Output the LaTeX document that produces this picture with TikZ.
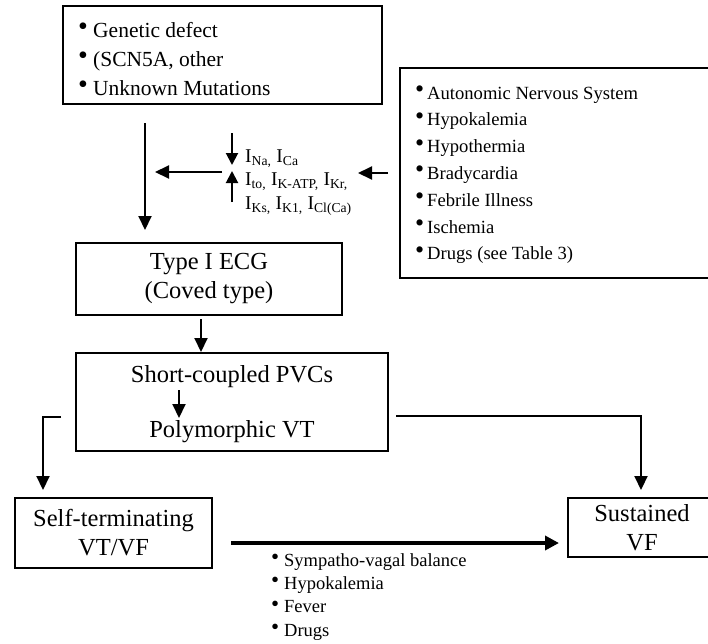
\documentclass[tikz,border=0pt]{standalone}
\usepackage{fontspec}
\setmainfont{Liberation Serif}
\usetikzlibrary{arrows.meta}
% bullet: #1 = box width, #2 = bullet size
\newcommand\bl[2]{\makebox[#1][l]{\raisebox{1.5pt}{\fontsize{#2}{#2}\selectfont •}}}
\begin{document}
\begin{tikzpicture}[x=1pt,y=-1pt,
  box/.style={draw=black, line width=1.4pt, inner sep=0pt, rectangle},
  boxtext/.style={align=center, inner sep=0pt, font=\fontsize{24.5}{29}\selectfont},
  glist/.style={anchor=base west, inner sep=0pt, font=\fontsize{21.5}{26}\selectfont},
  rlist/.style={anchor=base west, inner sep=0pt, font=\fontsize{18.6}{22}\selectfont},
  blist/.style={anchor=base west, inner sep=0pt, font=\fontsize{18.5}{22}\selectfont},
  curr/.style={anchor=base west, inner sep=0pt, font=\fontsize{19.5}{23}\selectfont},
  arr/.style={line width=2pt, -{Triangle[length=14pt,width=13pt]}},
  sarr/.style={line width=2pt, -{Triangle[length=12pt,width=12pt]}},
  barr/.style={line width=3.5pt, -{Triangle[length=14pt,width=14pt]}}]
\useasboundingbox (0,0) rectangle (708,643);
\clip (0,0) rectangle (708,643);
\fill[white] (0,0) rectangle (708,643);

% boxes
\node[box, minimum width=319pt, minimum height=98pt] (gen) at (222.5,55) {};
\node[box, minimum width=312pt, minimum height=210pt] (mod) at (556,173) {};
\node[box, minimum width=266pt, minimum height=72pt] (ecg) at (209,279) {};
\node[box, minimum width=312pt, minimum height=98pt] (pvc) at (232,402) {};
\node[box, minimum width=197pt, minimum height=70pt] (self) at (113.5,533) {};
\node[box, minimum width=148pt, minimum height=59pt] (sus) at (642,527.5) {};

% genetic list
\node[glist] (g1) at (78,37) {\bl{15pt}{28}Genetic defect};
\node[glist] (g2) at (78,66) {\bl{15pt}{28}(SCN5A, other};
\node[glist] (g3) at (78,95) {\bl{15pt}{28}Unknown Mutations};

% modulating factors list
\node[rlist] (r1) at (415,99)   {\bl{12pt}{26}Autonomic Nervous System};
\node[rlist] (r2) at (415,125.8) {\bl{12pt}{26}Hypokalemia};
\node[rlist] (r3) at (415,152.6) {\bl{12pt}{26}Hypothermia};
\node[rlist] (r4) at (415,179.4) {\bl{12pt}{26}Bradycardia};
\node[rlist] (r5) at (415,206.2) {\bl{12pt}{26}Febrile Illness};
\node[rlist] (r6) at (415,233)   {\bl{12pt}{26}Ischemia};
\node[rlist] (r7) at (415,259.8) {\bl{12pt}{26}Drugs (see Table 3)};

% currents
\node[curr] (c1) at (245,162) {I\textsubscript{Na,} I\textsubscript{Ca}};
\node[curr] (c2) at (245,185.5) {I\textsubscript{to,} I\textsubscript{K-ATP,} I\textsubscript{Kr,}};
\node[curr] (c3) at (245,209) {I\textsubscript{Ks,} I\textsubscript{K1,} I\textsubscript{Cl(Ca)}};

% box texts
\node[boxtext] (ecgt) at (ecg) {Type I ECG\\(Coved type)};
\node[boxtext] (pvc1) at (232,377) {Short-coupled PVCs};
\node[boxtext] (pvc2) at (232,432) {Polymorphic VT};
\node[boxtext] (selft) at (self) {Self-terminating\\VT/VF};
\node[boxtext] (sust) at (sus) {Sustained\\VF};

% bottom list
\node[blist] (b1) at (271,566)   {\bl{13pt}{23}Sympatho-vagal balance};
\node[blist] (b2) at (271,589.4) {\bl{13pt}{23}Hypokalemia};
\node[blist] (b3) at (271,612.8) {\bl{13pt}{23}Fever};
\node[blist] (b4) at (271,636.2) {\bl{13pt}{23}Drugs};

% connector end points
\coordinate (a1s) at (145,123);
\coordinate (a1e) at (145,230);
\coordinate (a2s) at (222,172);
\coordinate (a2e) at (155,172);
\coordinate (a3s) at (232,133);
\coordinate (a3e) at (232,165);
\coordinate (a4s) at (232,202);
\coordinate (a4e) at (232,171);
\coordinate (a5s) at (388,173);
\coordinate (a5e) at (358,173);
\coordinate (a6s) at (201,319);
\coordinate (a6e) at (201,352);
\coordinate (a7s) at (179,390);
\coordinate (a7e) at (179,418);
\coordinate (a8s) at (61,417);
\coordinate (a8c) at (43,417);
\coordinate (a8e) at (43,490);
\coordinate (a9s) at (396,416);
\coordinate (a9c) at (641,416);
\coordinate (a9e) at (641,490);
\coordinate (a10s) at (231,543);
\coordinate (a10e) at (559,543);

% connectors
\draw[arr] (a1s) -- (a1e);
\draw[arr] (a2s) -- (a2e);
\draw[sarr] (a3s) -- (a3e);
\draw[sarr] (a4s) -- (a4e);
\draw[arr] (a5s) -- (a5e);
\draw[arr] (a6s) -- (a6e);
\draw[arr] (a7s) -- (a7e);
\draw[arr] (a8s) -- (a8c) -- (a8e);
\draw[arr] (a9s) -- (a9c) -- (a9e);
\draw[barr] (a10s) -- (a10e);
\end{tikzpicture}
\end{document}
